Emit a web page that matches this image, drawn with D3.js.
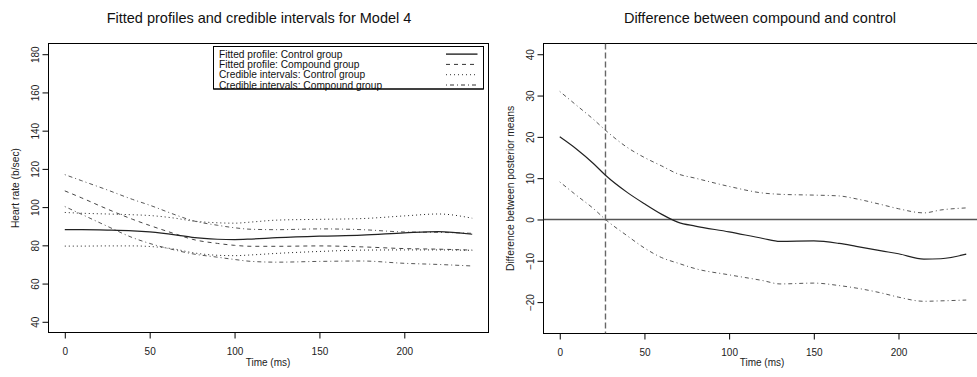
<!DOCTYPE html>
<html>
<head>
<meta charset="utf-8">
<script src="https://cdn.jsdelivr.net/npm/d3@7/dist/d3.min.js"></script>
<style>
  html, body { margin: 0; padding: 0; background: #fff; }
  svg { display: block; }
  svg text { font-family: "Liberation Sans", Arial, Helvetica, sans-serif; }
</style>
</head>
<body>
<svg id="chart" width="977" height="377"></svg>
<script>
// Time grid (ms) at which the posterior summaries were evaluated
const timeLeft = [0, 10, 25, 40, 50, 65, 75, 90, 100, 110, 125, 150, 175, 200, 220, 240];

// Left panel: fitted profiles and credible bounds (heart rate, b/sec)
const controlFit   = [88.2, 88.2, 88.0, 87.6, 87.0, 85.5, 84.2, 83.2, 83.0, 83.3, 84.0, 84.8, 85.3, 86.5, 87.2, 85.8];
const compoundFit  = [108.5, 104.8, 99.0, 93.6, 90.4, 86.0, 83.2, 81.0, 80.0, 79.5, 79.5, 79.7, 79.2, 78.3, 78.0, 77.5];
const controlUpper = [97.2, 96.8, 96.4, 96.0, 95.6, 94.2, 92.8, 91.8, 91.6, 92.2, 93.2, 93.6, 94.0, 95.4, 96.4, 94.2];
const controlLower = [79.6, 79.6, 79.7, 79.7, 79.4, 78.0, 76.2, 74.8, 74.6, 75.0, 75.8, 76.8, 77.5, 77.6, 77.6, 77.4];
const compoundUpper= [117.0, 113.8, 109.0, 104.0, 101.0, 96.0, 93.0, 90.5, 89.2, 88.4, 88.2, 88.6, 88.2, 87.0, 86.8, 86.3];
const compoundLower= [100.3, 96.2, 90.0, 84.0, 81.0, 77.5, 75.6, 73.8, 72.6, 71.6, 71.2, 71.6, 71.8, 70.6, 70.0, 69.2];

// Right panel: difference between posterior means (compound - control)
const timeRight = [0, 10, 20, 27, 40, 50, 60, 70, 80, 100, 120, 130, 150, 165, 175, 190, 200, 215, 225, 240];
const diffMean  = [20.0, 17.0, 13.5, 10.7, 6.5, 3.8, 1.3, -0.7, -1.6, -3.0, -4.6, -5.3, -5.2, -5.8, -6.5, -7.6, -8.3, -9.6, -9.5, -8.4];
const diffUpper = [31.0, 27.6, 24.2, 21.6, 17.4, 15.0, 13.0, 11.0, 10.0, 8.0, 6.4, 6.1, 5.9, 5.7, 5.0, 3.6, 2.6, 1.6, 2.3, 2.8];
const diffLower = [9.1, 5.8, 2.6, 0.0, -4.0, -6.9, -9.2, -10.6, -11.9, -13.4, -14.8, -15.6, -15.4, -16.0, -16.6, -17.8, -18.8, -19.8, -19.7, -19.5];
const markerTime = 27;

// Axis ticks
const xTicks = [0, 50, 100, 150, 200];
const yTicksLeft = [40, 60, 80, 100, 120, 140, 160, 180];
const yTicksRight = [-20, -10, 0, 10, 20, 30, 40];

// Legend entries
const legendLabels = [
  "Fitted profile: Control group",
  "Fitted profile: Compound group",
  "Credible intervals: Control group",
  "Credible intervals: Compound group"
];

const FONT = "Liberation Sans, Arial, Helvetica, sans-serif";
const svg = d3.select("#chart");

const DASH = { solid: null, dashed: "4,4", dotted: "1,3", dotdash: "1,3,4,3" };

function pad(lo, hi) { const d = (hi - lo) * 0.04; return [lo - d, hi + d]; }

function panel(opts) {
  const g = svg.append("g");
  const x = d3.scaleLinear().domain(pad(0, 240)).range([opts.left, opts.right]);
  const y = d3.scaleLinear().domain(pad(opts.ylim[0], opts.ylim[1])).range([opts.bottom, opts.top]);

  // Frame
  g.append("rect")
    .attr("x", opts.left).attr("y", opts.top)
    .attr("width", opts.right - opts.left).attr("height", opts.bottom - opts.top)
    .attr("fill", "none").attr("stroke", "#000").attr("stroke-width", 1);

  // Bottom axis
  const xa = g.append("g").attr("transform", `translate(0,${opts.bottom})`)
    .call(d3.axisBottom(x).tickValues(xTicks).tickSize(6).tickPadding(9).tickFormat(d3.format("d")));
  xa.attr("font-family", FONT).attr("font-size", 10);
  xa.select(".domain").remove();
  xa.selectAll("line").attr("stroke", "#000");
  xa.selectAll("text").attr("fill", "#222");

  // Left axis with rotated labels
  const ya = g.append("g").attr("transform", `translate(${opts.left},0)`)
    .call(d3.axisLeft(y).tickValues(opts.yticks).tickSize(6).tickFormat(d3.format("d")));
  ya.attr("font-family", FONT).attr("font-size", 10);
  ya.select(".domain").remove();
  ya.selectAll("line").attr("stroke", "#000");
  ya.selectAll("text")
    .attr("fill", "#222")
    .attr("x", null).attr("dy", null)
    .attr("text-anchor", "middle")
    .attr("transform", `translate(-10,0) rotate(-90)`);

  // Titles
  g.append("text").attr("x", opts.titleX).attr("y", 23)
    .attr("text-anchor", "middle").attr("font-size", 14.5).attr("fill", "#111").text(opts.title);
  g.append("text").attr("x", opts.xlabX).attr("y", 366)
    .attr("text-anchor", "middle").attr("font-size", 10).attr("fill", "#222").text("Time (ms)");
  g.append("text")
    .attr("transform", `translate(${opts.ylabX},${(opts.top + opts.bottom) / 2}) rotate(-90)`)
    .attr("text-anchor", "middle").attr("font-size", 10.3).attr("fill", "#222").text(opts.ylab);

  const clip = "clip" + Math.round(opts.left);
  svg.append("defs").append("clipPath").attr("id", clip)
    .append("rect").attr("x", opts.left).attr("y", opts.top)
    .attr("width", opts.right - opts.left).attr("height", opts.bottom - opts.top);
  const plot = g.append("g").attr("clip-path", `url(#${clip})`);

  return { g, plot, x, y };
}

function drawSeries(p, xs, ys, style, color, width) {
  const line = d3.line().x((d, i) => p.x(xs[i])).y(d => p.y(d)).curve(d3.curveMonotoneX);
  p.plot.append("path").datum(ys)
    .attr("d", line)
    .attr("fill", "none")
    .attr("stroke", color || "#000")
    .attr("stroke-width", width || 1)
    .attr("stroke-dasharray", DASH[style]);
}

// ---------- Left panel ----------
const L = panel({
  left: 48.5, right: 488.5, top: 43.5, bottom: 332.5,
  ylim: [40, 180], yticks: yTicksLeft,
  title: "Fitted profiles and credible intervals for Model 4", titleX: 259,
  xlabX: 268, ylab: "Heart rate (b/sec)", ylabX: 19
});
drawSeries(L, timeLeft, controlUpper, "dotted", "#222", 1);
drawSeries(L, timeLeft, controlLower, "dotted", "#222", 1);
drawSeries(L, timeLeft, compoundUpper, "dotdash", "#444", 0.9);
drawSeries(L, timeLeft, compoundLower, "dotdash", "#444", 0.9);
drawSeries(L, timeLeft, compoundFit, "dashed", "#444", 1);
drawSeries(L, timeLeft, controlFit, "solid", "#222", 1.2);

// Legend box (top right)
const lg = L.g.append("g");
lg.append("rect").attr("x", 213.5).attr("y", 46.5).attr("width", 270).attr("height", 42.5)
  .attr("fill", "#fff").attr("stroke", "#000").attr("stroke-width", 1);
const legendStyles = ["solid", "dashed", "dotted", "dotdash"];
legendLabels.forEach((lab, i) => {
  const yb = 57.6 + i * 10.3;
  lg.append("text").attr("x", 219).attr("y", yb).attr("font-size", 10.2).attr("fill", "#111").text(lab);
  lg.append("line").attr("x1", 446).attr("x2", 477.5).attr("y1", yb - 3.5).attr("y2", yb - 3.5)
    .attr("stroke", i === 0 ? "#000" : "#333").attr("stroke-width", i === 0 ? 1.2 : 1)
    .attr("stroke-dasharray", DASH[legendStyles[i]]);
});
// bottom border drawn over the last label
lg.append("line").attr("x1", 213.5).attr("x2", 483.5).attr("y1", 89).attr("y2", 89)
  .attr("stroke", "#000").attr("stroke-width", 1);

// ---------- Right panel ----------
const R = panel({
  left: 543.5, right: 982.5, top: 43.5, bottom: 333.5,
  ylim: [-25, 40], yticks: yTicksRight,
  title: "Difference between compound and control", titleX: 760,
  xlabX: 762, ylab: "Difference between posterior means", ylabX: 514
});
// zero reference line
R.plot.append("line")
  .attr("x1", R.x.range()[0]).attr("x2", R.x.range()[1])
  .attr("y1", R.y(0)).attr("y2", R.y(0))
  .attr("stroke", "#555").attr("stroke-width", 1.4);
// time at which the lower bound crosses zero
R.plot.append("line")
  .attr("x1", R.x(markerTime)).attr("x2", R.x(markerTime))
  .attr("y1", R.y.range()[1]).attr("y2", R.y.range()[0])
  .attr("stroke", "#666").attr("stroke-width", 1.4).attr("stroke-dasharray", "6,3");
drawSeries(R, timeRight, diffUpper, "dotdash", "#444", 0.9);
drawSeries(R, timeRight, diffLower, "dotdash", "#444", 0.9);
drawSeries(R, timeRight, diffMean, "solid", "#222", 1.2);
</script>
</body>
</html>
